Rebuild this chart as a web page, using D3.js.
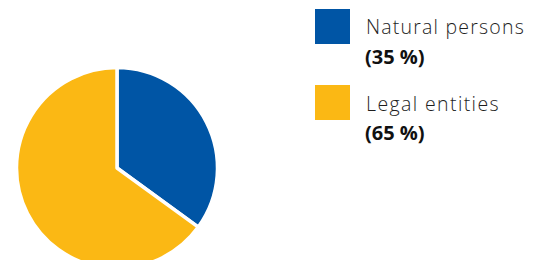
<!DOCTYPE html>
<html>
<head>
<meta charset="utf-8">
<script src="https://cdn.jsdelivr.net/npm/d3@7"></script>
<style>
  body { margin: 0; background: #fff; }
  svg { display: block; }
</style>
</head>
<body>
<svg id="chart" width="541" height="260"></svg>
<script>
// Shares of owners
var categories = ["Natural persons", "Legal entities"];
var shares = [35, 65];
var shareLabels = ["(35 %)", "(65 %)"];
var colors = ["#0055A5", "#FBB814"];

var svg = d3.select("#chart");

var pie = d3.pie().sort(null).value(function(d) { return d; });
var arc = d3.arc().innerRadius(0).outerRadius(100.5);

var g = svg.append("g")
  .attr("transform", "translate(117,168)");

g.selectAll("path")
  .data(pie(shares))
  .enter().append("path")
  .attr("d", arc)
  .attr("fill", function(d, i) { return colors[i]; })
  .attr("stroke", "#fff")
  .attr("stroke-width", 3.5)
  .attr("stroke-linejoin", "round");

// legend: square, name, share
var li = { x: 315, y: 9, s: 35, step: 76 };
var nameWidths = [159, 134]; // width the original face takes

var legend = svg.selectAll("g.legend")
  .data(categories)
  .enter().append("g")
  .attr("class", "legend")
  .attr("transform", function(d, i) {
    return "translate(" + li.x + "," + (li.y + i * li.step) + ")";
  });

legend.append("rect")
  .attr("width", li.s)
  .attr("height", li.s)
  .attr("fill", function(d, i) { return colors[i]; });

var names = legend.append("text")
  .attr("x", 51)
  .attr("y", function(d, i) { return i ? 26 : 24.5; })
  .style("font-family", "'Open Sans'")
  .style("font-weight", 300)
  .style("font-size", "19.5px")
  .style("fill", "#1e1e1e")
  .text(function(d) { return d; });

// widen the light label, the original face runs wider
names.each(function(d, i) {
  var w = this.getComputedTextLength();
  d3.select(this).style("letter-spacing", ((nameWidths[i] - w) / d.length) + "px");
});

legend.append("text")
  .attr("x", 50)
  .attr("y", function(d, i) { return i ? 54.5 : 55; })
  .style("font-family", "'Open Sans'")
  .style("font-weight", 700)
  .style("font-size", "20px")
  .style("fill", "#111")
  .text(function(d, i) { return shareLabels[i]; });
</script>
</body>
</html>
